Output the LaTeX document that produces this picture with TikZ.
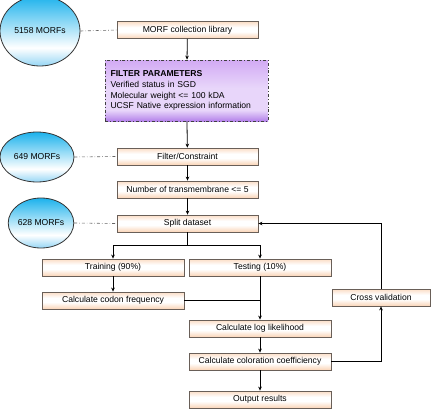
\documentclass[tikz,border=0pt]{standalone}
\usepackage{fontspec}
\setmainfont{Liberation Sans}
\usetikzlibrary{arrows.meta,shapes.geometric}
\definecolor{peach}{RGB}{250,212,182}
\definecolor{boxborder}{RGB}{105,95,88}
\definecolor{elltop}{RGB}{28,178,236}
\definecolor{ellbot}{RGB}{150,214,245}
\definecolor{purpbot}{RGB}{180,130,234}
\definecolor{purpmid}{RGB}{232,214,250}
\definecolor{purptop}{RGB}{210,170,244}
\pgfdeclareverticalshading{ellshade}{100bp}{color(0bp)=(ellbot); color(25bp)=(ellbot); color(38bp)=(white); color(75bp)=(elltop); color(100bp)=(elltop)}
\pgfdeclareverticalshading{purpshade}{100bp}{color(0bp)=(purpbot); color(25bp)=(purpbot); color(34bp)=(purpmid); color(52bp)=(purpmid); color(75bp)=(purptop); color(100bp)=(purptop)}
\pgfdeclareverticalshading{boxshade}{100bp}{color(0bp)=(peach); color(25bp)=(peach); color(45bp)=(white); color(58bp)=(white); color(75bp)=(peach!80); color(100bp)=(peach!80)}
\begin{document}
\begin{tikzpicture}[x=1pt,y=-1pt,
  every node/.style={font=\fontsize{8.6}{10.3}\selectfont},
  procbox/.style={rectangle, draw=boxborder, line width=0.8pt, shading=boxshade, minimum width=141pt, minimum height=17pt, inner sep=0pt},
  morf/.style={ellipse, draw=black!80, line width=0.8pt, shading=ellshade, inner sep=0pt},
  filterbox/.style={rectangle, draw=black!75, line width=0.8pt, dash dot, shading=purpshade, minimum width=163pt, minimum height=61pt, inner sep=0pt, align=left, text width=152pt},
  conn/.style={line width=0.8pt, -{Stealth[length=4pt,width=3.6pt]}},
  plain/.style={line width=0.8pt},
  dd/.style={line width=0.6pt, black!60, dash dot}
]
\useasboundingbox (0,0) rectangle (431,415);
\begin{scope}
\clip (0,0) rectangle (431,415);
\node[morf, minimum width=80pt, minimum height=70pt] (e1) at (40,31) {5158 MORFs};
\node[morf, minimum width=74pt, minimum height=50pt] (e2) at (37,157) {649 MORFs};
\end{scope}
\node[morf, minimum width=62pt, minimum height=50pt] (e3) at (41,223) {628 MORFs};

\node[procbox] (lib) at (187.5,30) {MORF collection library};
\node[filterbox] (filter) at (186.5,90.5) {{\bfseries FILTER PARAMETERS}\\[1pt]Verified status in SGD\\Molecular weight <= 100 kDA\\UCSF Native expression information};
\node[procbox] (fc) at (187.5,156.5) {Filter/Constraint};
\node[procbox] (ntm) at (187.5,189.5) {Number of transmembrane <= 5};
\node[procbox] (split) at (187.5,223.5) {Split dataset};
\node[procbox, minimum width=142pt] (train) at (113,267.5) {Training (90\%)};
\node[procbox, minimum width=142pt] (test) at (260,267.5) {Testing (10\%)};
\node[procbox, minimum width=142pt] (codon) at (113,300.5) {Calculate codon frequency};
\node[procbox, minimum width=142pt] (loglik) at (260,328.5) {Calculate log likelihood};
\node[procbox, minimum width=142pt] (coef) at (260,361.5) {Calculate coloration coefficiency};
\node[procbox, minimum width=142pt] (out) at (260,399.5) {Output results};
\node[procbox, minimum width=98pt] (cv) at (381,297.5) {Cross validation};

\coordinate (fork) at (187.5,245);

\draw[dd] (e1.east) -- (lib.west);
\draw[dd] (e2.east) -- (fc.west);
\draw[dd] (e3.east) -- (split.west);

\draw[conn] (lib) -- (filter);
\draw[conn] (filter) -- (fc);
\draw[conn] (fc) -- (ntm);
\draw[conn] (ntm) -- (split);
\draw[plain] (split.south) -- (fork);
\draw[conn] (fork) -| (train.north);
\draw[conn] (fork) -| (test.north);
\draw[conn] (train) -- (codon);
\draw[plain] (codon.east) -- (codon.east -| test.south);
\draw[conn] (test) -- (loglik);
\draw[conn] (loglik) -- (coef);
\draw[conn] (coef) -- (out);
\draw[conn] (coef.east) -| (cv.south);
\draw[conn] (cv.north) |- (split.east);
\end{tikzpicture}
\end{document}
